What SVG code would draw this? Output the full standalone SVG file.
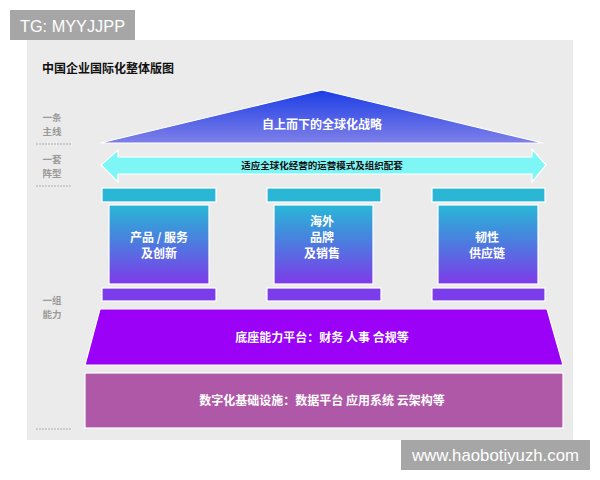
<svg xmlns="http://www.w3.org/2000/svg" width="600" height="480" viewBox="0 0 600 480">
<defs>
<linearGradient id="roofG" x1="0" y1="0" x2="0" y2="1">
<stop offset="0" stop-color="#1b3de6"/>
<stop offset="1" stop-color="#7f80e8"/>
</linearGradient>
<linearGradient id="colG" x1="0" y1="0" x2="0" y2="1">
<stop offset="0" stop-color="#28b8d6"/>
<stop offset="0.45" stop-color="#4a7fdf"/>
<stop offset="1" stop-color="#7e3aea"/>
</linearGradient>
<style>
.cjk{font-family:"Noto Sans CJK SC","Noto Sans",sans-serif;font-weight:bold}
.w{fill:#ffffff;font-size:12px}
.side{fill:#9a9a9a;font-size:9.5px}
.dash{stroke:#a0a0a0;stroke-width:0.8;stroke-dasharray:2,1}
.cap{fill:#2ab7d6;stroke:#ffffff;stroke-width:1.2}
.base{fill:#7b3ceb;stroke:#ffffff;stroke-width:1.2}
.body{fill:url(#colG);stroke:#ffffff;stroke-width:1.2}
.wm{fill:#a6a6a6}
.wmt{fill:#ffffff;font-family:"Liberation Sans",Arial,sans-serif;font-size:17px}
</style>
</defs>
<rect x="0" y="0" width="600" height="480" fill="#ffffff"/>
<rect x="27" y="40" width="546" height="400" fill="#ebebeb"/>
<g id="watermark-top">
<rect class="wm" x="10" y="10" width="125" height="30"/>
<text class="wmt" x="20" y="32" textLength="105" lengthAdjust="spacingAndGlyphs">TG: MYYJJPP</text>
</g>
<g id="watermark-bottom">
<rect class="wm" x="401" y="440" width="189" height="30"/>
<text class="wmt" x="412" y="461" textLength="167" lengthAdjust="spacingAndGlyphs">www.haobotiyuzh.com</text>
</g>
<text id="title" class="cjk" x="42" y="73" font-size="12" fill="#111111">中国企业国际化整体版图</text>
<g id="side-labels">
<text class="cjk side" x="52" y="121" text-anchor="middle">一条</text>
<text class="cjk side" x="52" y="134.5" text-anchor="middle">主线</text>
<line class="dash" x1="36" y1="144" x2="72" y2="144"/>
<text class="cjk side" x="52" y="163" text-anchor="middle">一套</text>
<text class="cjk side" x="52" y="176.5" text-anchor="middle">阵型</text>
<line class="dash" x1="36" y1="186" x2="72" y2="186"/>
<text class="cjk side" x="52" y="304" text-anchor="middle">一组</text>
<text class="cjk side" x="52" y="317.5" text-anchor="middle">能力</text>
<line class="dash" x1="36" y1="429" x2="72" y2="429"/>
</g>
<g id="roof">
<polygon points="100,143 322,90 543,143" fill="url(#roofG)" stroke="#ffffff" stroke-width="1.2"/>
<text class="cjk w" x="322" y="129" text-anchor="middle">自上而下的全球化战略</text>
</g>
<g id="arrow-band">
<polygon points="101,165 118,150 118,157 532,157 532,149 546,165 532,182 532,174 118,174 118,182" fill="#7ff6f6" stroke="#ffffff" stroke-width="1.2"/>
<text class="cjk" x="322" y="169" text-anchor="middle" font-size="9.5" fill="#111111">适应全球化经营的运营模式及组织配套</text>
</g>
<g id="pillar-left">
<rect class="cap" x="102" y="188" width="114" height="14"/>
<rect class="body" x="109" y="205" width="100" height="79"/>
<rect class="base" x="102" y="288" width="114" height="13"/>
<text class="cjk w" x="159" y="242" text-anchor="middle">产品 / 服务</text>
<text class="cjk w" x="159" y="258" text-anchor="middle">及创新</text>
</g>
<g id="pillar-middle">
<rect class="cap" x="267" y="188" width="114" height="14"/>
<rect class="body" x="274" y="205" width="99" height="79"/>
<rect class="base" x="267" y="288" width="114" height="13"/>
<text class="cjk w" x="322" y="226" text-anchor="middle">海外</text>
<text class="cjk w" x="322" y="242" text-anchor="middle">品牌</text>
<text class="cjk w" x="322" y="258" text-anchor="middle">及销售</text>
</g>
<g id="pillar-right">
<rect class="cap" x="432" y="188" width="113" height="14"/>
<rect class="body" x="438" y="205" width="100" height="79"/>
<rect class="base" x="432" y="288" width="113" height="13"/>
<text class="cjk w" x="487" y="242" text-anchor="middle">韧性</text>
<text class="cjk w" x="487" y="258" text-anchor="middle">供应链</text>
</g>
<g id="platform">
<polygon points="100,309 547,309 563,365 85,365" fill="#9b00f7" stroke="#ffffff" stroke-width="1.2"/>
<text class="cjk w" x="322" y="342" text-anchor="middle">底座能力平台：财务 人事 合规等</text>
</g>
<g id="infrastructure">
<rect x="85" y="373" width="478" height="55" fill="#b058a8" stroke="#ffffff" stroke-width="1.2"/>
<text class="cjk w" x="322" y="405" text-anchor="middle">数字化基础设施：数据平台 应用系统 云架构等</text>
</g>
</svg>
